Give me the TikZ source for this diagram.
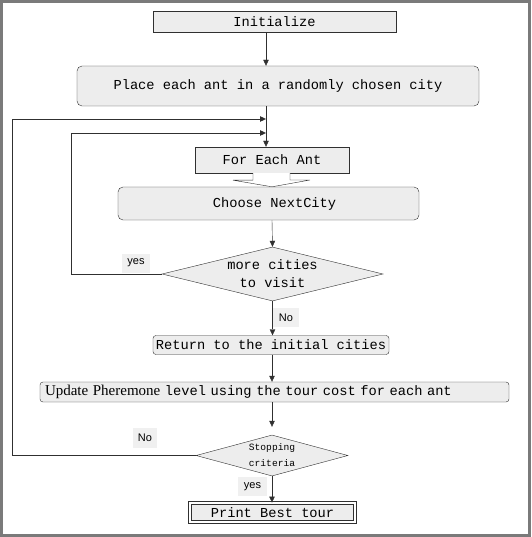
\documentclass[tikz,border=0pt]{standalone}
\usepackage{fontspec}
\setmonofont{Liberation Mono}
\setsansfont{Liberation Sans}
\newfontfamily\timesfont{Liberation Serif}
\usetikzlibrary{shapes.geometric,arrows.meta}

\definecolor{boxfill}{HTML}{EDEDED}
\definecolor{boxline}{HTML}{303030}
\definecolor{framegray}{HTML}{7A7A7A}
\definecolor{tagfill}{HTML}{F0F0F0}

\tikzset{
    >={Triangle[length=6pt,width=5.5pt]},
    proc/.style={draw=boxline,fill=boxfill,inner sep=0pt,font=\ttfamily\fontsize{13.7}{16}\selectfont},
    cond/.style={diamond,draw=boxline,fill=boxfill,inner sep=0pt,align=center},
    tag/.style={fill=tagfill,inner sep=0pt,font=\sffamily\fontsize{11}{13}\selectfont}
}

\begin{document}
\begin{tikzpicture}[x=1pt,y=-1pt]
    \useasboundingbox (0,0) rectangle (531,537);
    \draw[framegray, line width=3pt] (1.5,1.5) rectangle (529.5,535.5);

    % where the lines run
    \coordinate (axisA) at (266,0);
    \coordinate (axisB) at (272,0);
    \coordinate (loopA) at (71,0);
    \coordinate (loopB) at (12,0);
    \coordinate (joinA) at (266,133);
    \coordinate (joinB) at (266,119);

    \begin{scope}[every node/.style={proc}]
        \node[minimum width=243pt,minimum height=21pt] (init) at (274.5,21.5) {Initialize};
        \node[rounded corners=5pt,minimum width=402pt,minimum height=40pt] (place) at (278,86) {Place each ant in a randomly chosen city};
        \node[minimum width=154pt,minimum height=26pt] (each) at (272,160) {For Each Ant};
        \node[rounded corners=5pt,minimum width=301pt,minimum height=33pt] (choose) at (268.5,203.5) {\hspace{12pt}Choose NextCity};
        \node[rounded corners=3pt,minimum width=236pt,minimum height=19pt] (return) at (271,345) {Return to the initial cities};
        \node[rounded corners=3pt,text width=459pt,inner xsep=5pt,align=left,minimum height=20pt] (update) at (274.5,392) {{\timesfont\fontsize{15}{16}\selectfont Update Pheremone }level using the tour cost for each ant};
        \node[minimum width=165pt,minimum height=19pt,line width=0.9pt,double=white,double distance=1.6pt] (print) at (272.5,512.5) {Print Best tour};
    \end{scope}

    \begin{scope}[every node/.style={cond}]
        \node[aspect=4.1,minimum width=221pt,minimum height=54pt,font=\ttfamily\fontsize{13.7}{18}\selectfont] (more) at (272.5,274) {more cities\\to visit};
        \node[aspect=3.7,minimum width=152pt,minimum height=41pt,font=\ttfamily\fontsize{9.6}{16}\selectfont] (stop) at (272,455.5) {Stopping\\criteria};
    \end{scope}

    % hollow arrow from For Each Ant into Choose NextCity
    \draw[boxline,fill=white] (each.south -| 253,0) -- ++(0,7) -- ++(-20,0) -- (choose.north -| axisB) -- (310,180) -- ++(-20,0) -- (each.south -| 290,0);

    \begin{scope}[every edge/.style={draw=boxline}]
        \path [->] (init.south -| axisA) edge (place.north -| axisA);
        \path [->] (place.south -| axisA) edge (each.north -| axisA);
        \path [->] (choose.south -| axisB) edge (more.north);
        \path [->] (more.south) edge (return.north -| more.south);
        \path [->] (return.south -| axisB) edge (update.north -| axisB);
        \path [->] (update.south -| axisB) edge[shorten >=8pt] (stop.north);
        \path [->] (stop.south) edge (print.north -| stop.south);
    \end{scope}

    \draw[boxline,->] (more.west) -- (more.west -| loopA) |- (joinA);
    \draw[boxline,->] (stop.west) -- (stop.west -| loopB) |- (joinB);

    \begin{scope}[every node/.style={tag}]
        \node[minimum width=28pt,minimum height=19pt] (yesA) at (136,263) {yes};
        \node[minimum width=26pt,minimum height=19pt] (noA) at (286,317.5) {No};
        \node[minimum width=24pt,minimum height=20pt] (noB) at (145,438) {No};
        \node[minimum width=29pt,minimum height=19pt] (yesB) at (252.5,486.5) {yes};
    \end{scope}
\end{tikzpicture}
\end{document}
